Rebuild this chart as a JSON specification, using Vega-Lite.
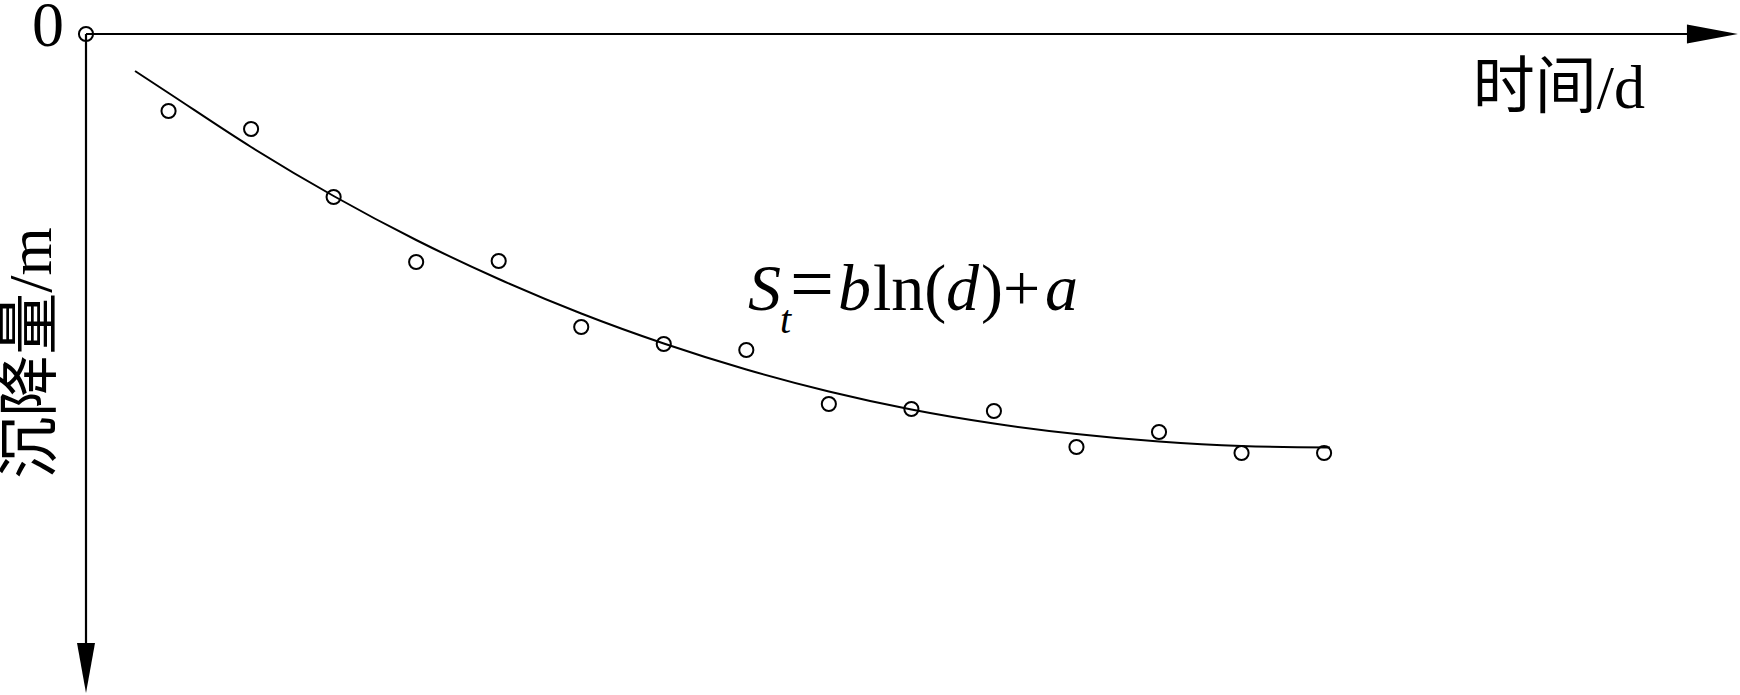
{
  "$schema": "https://vega.github.io/schema/vega-lite/v6.json",
  "width": 1740,
  "height": 695,
  "autosize": "none",
  "padding": 0,
  "background": "white",
  "config": {"view": {"stroke": null}},
  "datasets": {
    "measured": [
      {"day": 0, "s": 0},
      {"day": 1, "s": 0.077},
      {"day": 2, "s": 0.095},
      {"day": 3, "s": 0.163},
      {"day": 4, "s": 0.228},
      {"day": 5, "s": 0.227},
      {"day": 6, "s": 0.293},
      {"day": 7, "s": 0.310},
      {"day": 8, "s": 0.316},
      {"day": 9, "s": 0.370},
      {"day": 10, "s": 0.375},
      {"day": 11, "s": 0.377},
      {"day": 12, "s": 0.413},
      {"day": 13, "s": 0.398},
      {"day": 14, "s": 0.419},
      {"day": 15, "s": 0.419}
    ],
    "fit": [
      {"day": 0.594, "s": 0.037},
      {"day": 1, "s": 0.059},
      {"day": 2, "s": 0.113},
      {"day": 3, "s": 0.162},
      {"day": 4, "s": 0.206},
      {"day": 5, "s": 0.245},
      {"day": 6, "s": 0.2795},
      {"day": 7, "s": 0.3095},
      {"day": 8, "s": 0.3355},
      {"day": 9, "s": 0.3575},
      {"day": 10, "s": 0.3755},
      {"day": 11, "s": 0.3895},
      {"day": 12, "s": 0.400},
      {"day": 13, "s": 0.4075},
      {"day": 14, "s": 0.412},
      {"day": 15.07, "s": 0.4135}
    ]
  },
  "encoding": {
    "x": {"type": "quantitative", "axis": null, "scale": {"domain": [-1.042, 20.039], "nice": false, "zero": false}},
    "y": {"type": "quantitative", "axis": null, "scale": {"domain": [-0.034, 0.661], "nice": false, "zero": false, "reverse": true}}
  },
  "layer": [
    {
      "data": {"values": [{"x1": 0, "x2": 19.45, "y1": 0}]},
      "mark": {"type": "rule", "color": "black", "strokeWidth": 2.2},
      "encoding": {
        "x": {"field": "x1", "type": "quantitative"},
        "x2": {"field": "x2"},
        "y": {"field": "y1", "type": "quantitative"}
      }
    },
    {
      "data": {"values": [{"x1": 0, "y1": 0, "y2": 0.63}]},
      "mark": {"type": "rule", "color": "black", "strokeWidth": 2.2},
      "encoding": {
        "x": {"field": "x1", "type": "quantitative"},
        "y": {"field": "y1", "type": "quantitative"},
        "y2": {"field": "y2"}
      }
    },
    {
      "data": {"values": [{"day": 19.705, "s": 0}]},
      "mark": {"type": "point", "shape": "M1,0L-1,-0.37L-1,0.37Z", "filled": true, "color": "black", "size": 2601, "opacity": 1},
      "encoding": {
        "x": {"field": "day", "type": "quantitative"},
        "y": {"field": "s", "type": "quantitative"}
      }
    },
    {
      "data": {"values": [{"day": 0, "s": 0.634}]},
      "mark": {"type": "point", "shape": "M0,1L-0.36,-1L0.36,-1Z", "filled": true, "color": "black", "size": 2500, "opacity": 1},
      "encoding": {
        "x": {"field": "day", "type": "quantitative"},
        "y": {"field": "s", "type": "quantitative"}
      }
    },
    {
      "data": {"name": "fit"},
      "mark": {"type": "line", "color": "black", "strokeWidth": 2, "interpolate": "monotone"},
      "encoding": {
        "x": {"field": "day", "type": "quantitative"},
        "y": {"field": "s", "type": "quantitative"}
      }
    },
    {
      "data": {"name": "measured"},
      "mark": {"type": "point", "shape": "circle", "filled": false, "stroke": "black", "strokeWidth": 2, "size": 200, "opacity": 1},
      "encoding": {
        "x": {"field": "day", "type": "quantitative"},
        "y": {"field": "s", "type": "quantitative"}
      }
    },
    {
      "data": {"values": [{"day": -0.46, "s": 0.012, "label": "0"}]},
      "mark": {"type": "text", "font": "Liberation Serif", "fontSize": 64, "align": "center", "baseline": "alphabetic", "color": "black"},
      "encoding": {
        "x": {"field": "day", "type": "quantitative"},
        "y": {"field": "s", "type": "quantitative"},
        "text": {"field": "label"}
      }
    },
    {
      "data": {"values": [{"day": 16.8, "s": 0.074, "label": "时间/d"}]},
      "mark": {"type": "text", "font": "Liberation Serif, Noto Sans CJK SC", "fontSize": 62, "align": "left", "baseline": "alphabetic", "color": "black"},
      "encoding": {
        "x": {"field": "day", "type": "quantitative"},
        "y": {"field": "s", "type": "quantitative"},
        "text": {"field": "label"}
      }
    },
    {
      "data": {"values": [{"day": -0.654, "s": 0.319, "label": "沉降量/m"}]},
      "mark": {"type": "text", "font": "Liberation Serif, Noto Sans CJK SC", "fontSize": 62, "align": "center", "baseline": "middle", "angle": 270, "color": "black"},
      "encoding": {
        "x": {"field": "day", "type": "quantitative"},
        "y": {"field": "s", "type": "quantitative"},
        "text": {"field": "label"}
      }
    },
    {
      "data": {"values": [
        {"day": 8.02, "s": 0.276, "label": "S"},
        {"day": 9.11, "s": 0.276, "label": "b"},
        {"day": 10.42, "s": 0.276, "label": "d"},
        {"day": 11.619, "s": 0.276, "label": "a"}
      ]},
      "mark": {"type": "text", "font": "Liberation Serif", "fontSize": 66, "fontStyle": "italic", "align": "left", "baseline": "alphabetic", "color": "black"},
      "encoding": {
        "x": {"field": "day", "type": "quantitative"},
        "y": {"field": "s", "type": "quantitative"},
        "text": {"field": "label"}
      }
    },
    {
      "data": {"values": [
        {"day": 9.535, "s": 0.276, "label": "ln("},
        {"day": 10.843, "s": 0.276, "label": ")+"}
      ]},
      "mark": {"type": "text", "font": "Liberation Serif", "fontSize": 66, "align": "left", "baseline": "alphabetic", "color": "black"},
      "encoding": {
        "x": {"field": "day", "type": "quantitative"},
        "y": {"field": "s", "type": "quantitative"},
        "text": {"field": "label"}
      }
    },
    {
      "data": {"values": [{"day": 8.53, "s": 0.276, "label": "="}]},
      "mark": {"type": "text", "font": "Liberation Serif", "fontSize": 78, "align": "left", "baseline": "alphabetic", "color": "black"},
      "encoding": {
        "x": {"field": "day", "type": "quantitative"},
        "y": {"field": "s", "type": "quantitative"},
        "text": {"field": "label"}
      }
    },
    {
      "data": {"values": [{"day": 8.408, "s": 0.299, "label": "t"}]},
      "mark": {"type": "text", "font": "Liberation Serif", "fontSize": 40, "fontStyle": "italic", "align": "left", "baseline": "alphabetic", "color": "black"},
      "encoding": {
        "x": {"field": "day", "type": "quantitative"},
        "y": {"field": "s", "type": "quantitative"},
        "text": {"field": "label"}
      }
    }
  ]
}
